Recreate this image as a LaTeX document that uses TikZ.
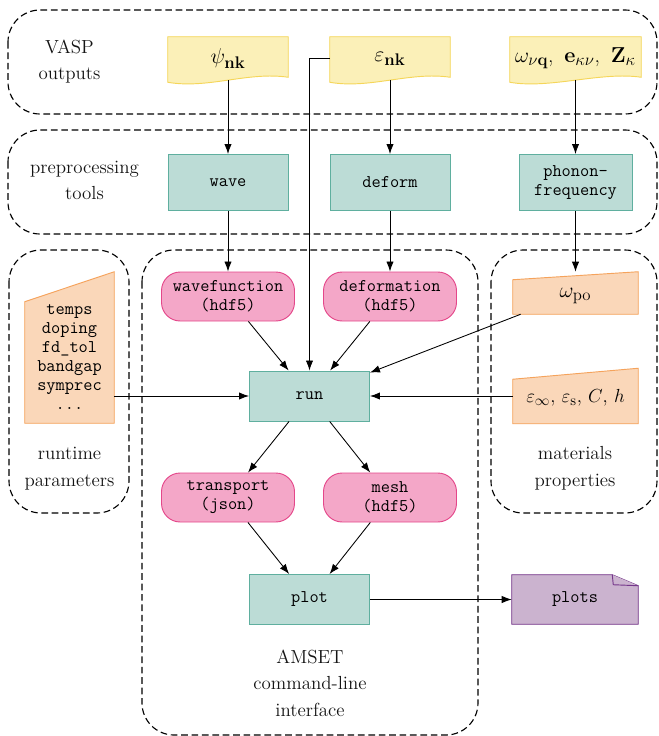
\RequirePackage{fix-cm}
\documentclass[tikz,border=0pt]{standalone}
\usepackage{amsmath}
\usetikzlibrary{arrows.meta,backgrounds}
\DeclareMathSizes{14.2}{14.2}{11}{8}
\DeclareMathSizes{16.2}{16.2}{12.6}{9}
\definecolor{yelF}{HTML}{FBF0B8}
\definecolor{yelD}{HTML}{F5D65A}
\definecolor{tealF}{HTML}{BCDCD6}
\definecolor{tealD}{HTML}{5FAF9F}
\definecolor{pinkF}{HTML}{F4A7C8}
\definecolor{pinkD}{HTML}{E4478A}
\definecolor{oraF}{HTML}{FAD7B9}
\definecolor{oraD}{HTML}{F5A35C}
\definecolor{purF}{HTML}{CBB3CF}
\definecolor{purD}{HTML}{74368A}
\newcommand{\lblfont}{\fontsize{14.2}{20}\selectfont}
\newcommand{\nodett}{\ttfamily\fontsize{13.4}{14.25}\selectfont}
\newcommand{\mathsz}{\fontsize{14.2}{17}\selectfont}
\newcommand{\tapesz}{\fontsize{16.2}{19}\selectfont}
\newcommand{\tapeshape}[1]{%
  \path[tapedraw] (#1.north west) -- (#1.north east) -- ([shift={(0,-3)}]#1.south east)
    .. controls ([shift={(-40,-9)}]#1.south east) and ([shift={(40,9)}]#1.south west) ..
    ([shift={(0,2)}]#1.south west) -- cycle;}
\begin{document}
\begin{tikzpicture}[x=0.75pt,y=-0.75pt,
  every node/.style={inner sep=0pt, align=center},
  lbl/.style={font=\lblfont, text=black!92},
  region/.style={draw=black, line width=0.85pt, dash pattern=on 5pt off 2.8pt, rounded corners=24pt},
  arr/.style={draw=black, line width=0.65pt, -{Latex[length=7.5pt,width=5.5pt]}},
  tool/.style={draw=tealD, fill=tealF, line width=0.7pt, minimum width=90pt, minimum height=42pt, font=\nodett},
  file/.style={draw=pinkD, fill=pinkF, line width=0.7pt, rounded corners=14pt, minimum width=99.75pt, minimum height=36.75pt, font=\nodett},
  tapebox/.style={minimum width=90pt, minimum height=32.25pt, font=\tapesz},
  tapedraw/.style={fill=yelF, draw=yelD, line width=0.7pt},
  inputdraw/.style={fill=oraF, draw=oraD, line width=0.7pt},
  docdraw/.style={fill=purF, draw=purD, line width=0.7pt}
]
\useasboundingbox (0,0) rectangle (658,736);
\clip (0,0) rectangle (658,736);

% regions
\draw[region] (8,10) rectangle (657,114);
\draw[region] (8,130) rectangle (657,234);
\draw[region] (9,250) rectangle (129,513);
\draw[region] (142,250) rectangle (478,735);
\draw[region] (491,250) rectangle (657,513);

% region labels
\node[lbl] (vasplbl) at (69.5,61.5) {VASP\\outputs};
\node[lbl] (prelbl) at (84.5,180.5) {preprocessing\\tools};
\node[lbl] (runlbl) at (69.5,468.5) {runtime\\parameters};
\node[lbl] (matlbl) at (575,468.5) {materials\\properties};
\node[lbl] (amsetlbl) at (310,683) {AMSET\\command-line\\interface};

% VASP outputs
\node[tapebox] (psi) at (228,58.5) {$\psi_{\mathbf{nk}}$};
\node[tapebox] (eps) at (390,58.5) {$\varepsilon_{\mathbf{nk}}$};
\node[tapebox, minimum width=98.25pt] (omg) at (575.5,58.5) {$\omega_{\nu\mathbf{q}}$,\hspace{8pt}$\mathbf{e}_{\kappa\nu}$,\hspace{8pt}$\mathbf{Z}_{\kappa}$};

% tools
\node[tool] (wave) at (228,182.5) {wave};
\node[tool] (deform) at (390,182.5) {deform};
\node[tool, minimum width=84.75pt] (phonon) at (575.5,182.5) {phonon-\\frequency};

% files
\node[file] (wavefunction) at (228,296.5) {wavefunction\\(hdf5)};
\node[file] (deformation) at (390,296.5) {deformation\\(hdf5)};
\node[tool, minimum height=37.5pt] (run) at (309.5,396) {run};
\node[file] (transport) at (228,497.5) {transport\\(json)};
\node[file] (mesh) at (390,497.5) {mesh\\(hdf5)};
\node[tool, minimum height=37.5pt] (plot) at (309.5,599.5) {plot};

% materials
\node[minimum width=93.75pt, minimum height=31.5pt] (ompo) at (575.5,293) {};
\node[font=\tapesz] (ompotxt) at (575.5,296) {$\omega_{\mathrm{po}}$};
\node[minimum width=93.75pt, minimum height=41.25pt] (epsinf) at (575.5,396) {};
\node[font=\mathsz] (epsinftxt) at (575.5,397.5) {$\varepsilon_{\infty}$, $\varepsilon_{\mathrm{s}}$, $C$, $h$};

% runtime params
\node[minimum width=66.75pt, minimum height=113.25pt] (params) at (69.5,347.5) {};
\node[font=\nodett] (paramstxt) at (69.5,357) {temps\\doping\\fd\_tol\\bandgap\\symprec\\...};

% plots
\node[minimum width=94.5pt, minimum height=36.75pt, font=\nodett] (plots) at (575,599.5) {plots};

\begin{scope}[on background layer]
  \tapeshape{psi}
  \tapeshape{eps}
  \tapeshape{omg}
  \path[inputdraw] (ompo.south west) -- (ompo.south east) -- (ompo.north east) -- ([shift={(0,8)}]ompo.north west) -- cycle;
  \path[inputdraw] (epsinf.south west) -- (epsinf.south east) -- (epsinf.north east) -- ([shift={(0,11)}]epsinf.north west) -- cycle;
  \path[inputdraw] (params.south west) -- (params.south east) -- (params.north east) -- ([shift={(0,30)}]params.north west) -- cycle;
  \path[docdraw] (plots.south west) -- (plots.north west) -- ([shift={(-26,0)}]plots.north east) -- ([shift={(0,11)}]plots.north east) -- (plots.south east) -- cycle;
  \path[docdraw] ([shift={(-26,0)}]plots.north east) -- ([shift={(-25,10)}]plots.north east) -- ([shift={(0,11)}]plots.north east);
\end{scope}

% connectors
\draw[arr] (psi) -- (wave);
\draw[arr] (eps) -- (deform);
\draw[arr] (omg) -- (phonon);
\draw[arr] (wave) -- (wavefunction);
\draw[arr] (deform) -- (deformation);
\draw[arr] (phonon) -- (ompo);
\draw[arr] (eps.west) -| (run);
\draw[arr] (wavefunction) -- (run);
\draw[arr] (deformation) -- (run);
\draw[arr] (ompo) -- (run);
\draw[arr] (epsinf) -- (run);
\draw[arr] (params.east |- run) -- (run);
\draw[arr] (run) -- (transport);
\draw[arr] (run) -- (mesh);
\draw[arr] (transport) -- (plot);
\draw[arr] (mesh) -- (plot);
\draw[arr] (plot) -- (plots);
\end{tikzpicture}
\end{document}
